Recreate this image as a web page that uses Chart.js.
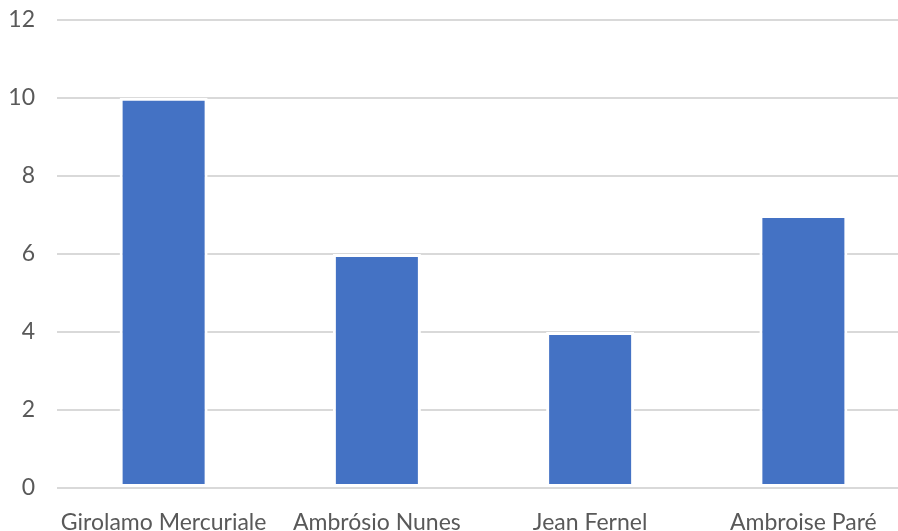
<!DOCTYPE html>
<html>
<head>
<meta charset="utf-8">
<script src="https://cdn.jsdelivr.net/npm/chart.js@4/dist/chart.umd.min.js"></script>
<style>
  html, body { margin: 0; padding: 0; background: #ffffff; overflow: hidden; }
  #wrap { position: relative; width: 910px; height: 561px; margin-top: -16px; }
</style>
</head>
<body>
<div id="wrap"><canvas id="chart"></canvas></div>
<script>
// Physicians and their counts
const categories = ['Girolamo Mercuriale', 'Ambrósio Nunes', 'Jean Fernel', 'Ambroise Paré'];
const values = [10, 6, 4, 7];
const yTicks = [0, 2, 4, 6, 8, 10, 12];

const textColor = '#595959';
const gridColor = '#d9d9d9';
const fontFamily = 'Lato, "Open Sans", sans-serif';

new Chart(document.getElementById('chart'), {
  type: 'bar',
  data: {
    labels: categories,
    datasets: [{
      data: values,
      backgroundColor: '#4472C4',
      borderColor: '#ffffff',
      borderWidth: 3,
      borderSkipped: false,
      categoryPercentage: 1,
      barPercentage: 0.4127
    }]
  },
  options: {
    responsive: true,
    maintainAspectRatio: false,
    animation: false,
    layout: { padding: { top: 4, left: 0, right: 0, bottom: 0 } },
    plugins: {
      legend: { display: false },
      tooltip: { enabled: false }
    },
    scales: {
      x: {
        grid: { display: false, drawTicks: false },
        border: { display: false },
        ticks: {
          color: textColor,
          padding: 21,
          maxRotation: 0,
          autoSkip: false,
          font: { family: fontFamily, size: 23 }
        },
        afterFit: (scale) => { scale.height = 57; }
      },
      y: {
        min: 0,
        max: 12,
        afterBuildTicks: (scale) => { scale.ticks = yTicks.map(v => ({ value: v })); },
        grid: { color: gridColor, lineWidth: 2, drawTicks: false },
        border: { display: false },
        ticks: {
          color: textColor,
          padding: 22,
          font: { family: fontFamily, size: 23 }
        },
        afterFit: (scale) => { scale.width = 57; }
      }
    }
  }
});
</script>
</body>
</html>
